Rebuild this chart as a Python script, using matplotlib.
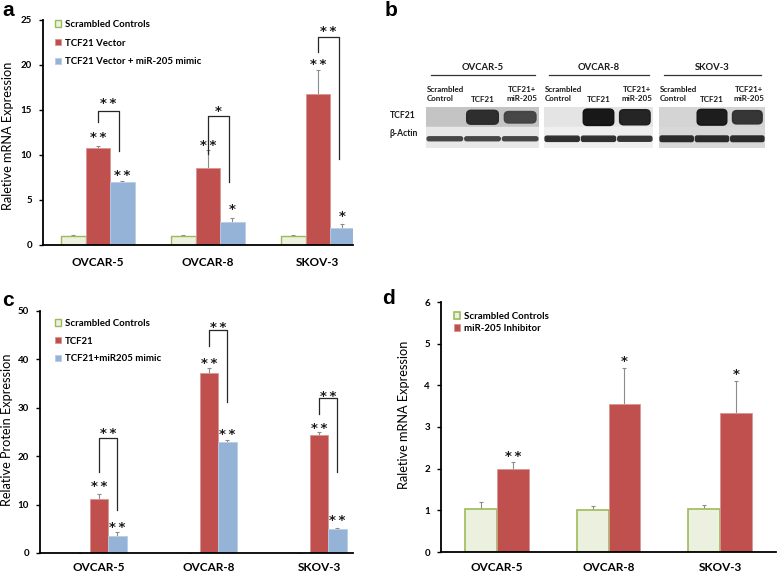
import matplotlib.pyplot as plt
from matplotlib.patches import Rectangle, FancyBboxPatch
import numpy as np

plt.rcParams['font.family'] = ['Lato', 'DejaVu Sans']

W, H = 778, 578

cells = ['OVCAR-5', 'OVCAR-8', 'SKOV-3']

# a: mRNA after TCF21 vector +/- miR-205 mimic
a_labels = ['Scrambled Controls', 'TCF21 Vector', 'TCF21 Vector + miR-205 mimic']
a_ctrl = [1.05, 1.05, 1.05]
a_ctrl_err = [0.05, 0.08, 0.08]
a_tcf = [10.8, 8.5, 16.75]
a_tcf_err = [0.2, 2.05, 2.65]
a_mimic = [6.95, 2.5, 1.93]
a_mimic_err = [0.15, 0.55, 0.45]
a_tcf_stars = ['**', '**', '**']
a_tcf_star_y = [12.5, 11.6, 20.6]
a_mimic_stars = ['**', '*', '*']
a_mimic_star_y = [8.2, 4.4, 3.7]
a_br_left = [13.7, 10.1, 21.4]
a_br_top = [14.9, 14.3, 23.1]
a_br_right = [10.4, 7.0, 9.6]
a_br_stars = ['**', '*', '**']
a_br_star_y = [16.2, 15.3, 24.2]

# c: protein
c_labels = ['Scrambled Controls', 'TCF21', 'TCF21+miR205 mimic']
c_ctrl = [0, 0, 0]
c_ctrl_err = [0, 0, 0]
c_tcf = [11.2, 37.1, 24.4]
c_tcf_err = [1.0, 1.0, 0.5]
c_mimic = [3.6, 22.9, 4.9]
c_mimic_err = [0.7, 0.4, 0.35]
c_tcf_stars = ['**', '**', '**']
c_tcf_star_y = [14.6, 40.0, 26.6]
c_mimic_stars = ['**', '**', '**']
c_mimic_star_y = [6.2, 25.4, 7.55]
c_br_left = [16.8, 42.7, 28.6]
c_br_top = [23.7, 46.0, 31.9]
c_br_right = [8.9, 31.25, 16.8]
c_br_stars = ['**', '**', '**']
c_br_star_y = [25.6, 47.4, 33.2]

# d: mRNA after miR-205 inhibitor
d_labels = ['Scrambled Controls', 'miR-205 Inhibitor']
d_ctrl = [1.04, 1.01, 1.03]
d_ctrl_err = [0.17, 0.1, 0.09]
d_inh = [2.0, 3.55, 3.34]
d_inh_err = [0.15, 0.86, 0.77]
d_inh_stars = ['**', '*', '*']
d_inh_star_y = [2.4, 4.69, 4.37]

# b: western blot
blot_lanes = ['Scrambled\nControl', 'TCF21', 'TCF21+\nmiR-205']
blot_rows = ['TCF21', 'β-Actin']
tcf21_band = [[0.0, 0.8, 0.6], [0.0, 1.0, 0.9], [0.0, 0.95, 0.75]]
actin_band = [[0.6, 0.6, 0.6], [0.8, 0.8, 0.75], [0.85, 0.85, 0.85]]

GREEN_F, GREEN_E = '#ebf1de', '#9bbb59'
RED_F, RED_E = '#c0504d', '#d99694'
BLUE_F, BLUE_E = '#95b3d7', '#b9cde5'
ERR = '#8c8c8c'
TXT = '#1a1a1a'


def box(l, t, r, b):
    return [l / W, 1 - b / H, (r - l) / W, (b - t) / H]


def errs(ax, x, y, e):
    _, caps, _ = ax.errorbar(x, y, yerr=[np.zeros(len(e)), e], fmt='none',
                             ecolor=ERR, elinewidth=0.8, capsize=1.5,
                             capthick=0.8, zorder=1)
    caps[0].set_visible(False)


def put_stars(ax, x, y, labels, fs=9.5):
    for xi, yi, si in zip(x, y, labels):
        ax.annotate('\u2009'.join(si), (xi, yi), xytext=(0, -5.8),
                    textcoords='offset points', ha='center', va='baseline',
                    fontsize=fs, fontweight='bold', color=TXT,
                    family=['DejaVu Sans'])


def style_axes(ax, ylim, yticks, ylabel, label_xy, pad):
    ax.set_ylim(*ylim)
    ax.set_yticks(yticks)
    for s in ['top', 'right']:
        ax.spines[s].set_visible(False)
    ax.spines['left'].set_linewidth(1.3)
    ax.spines['bottom'].set_linewidth(1.3)
    ax.tick_params(axis='y', direction='out', length=3, width=1, pad=5,
                   labelsize=7)
    ax.tick_params(axis='x', length=0, pad=pad, labelsize=8.5)
    ax.set_xticks([0, 1, 2])
    ax.set_xticklabels(cells, fontweight='bold')
    for t in ax.get_yticklabels():
        t.set_fontweight('bold')
    ax.set_ylabel(ylabel, fontsize=9.2)
    ax.yaxis.set_label_coords(*label_xy)


def legend(ax, handles, labels, x, y, spacing):
    ax.legend(handles, labels, loc='upper left', bbox_to_anchor=(x / W, 1 - y / H),
              bbox_transform=fig.transFigure, frameon=False, borderpad=0,
              borderaxespad=0, handlelength=0.65, handleheight=0.65,
              handletextpad=0.4, labelspacing=spacing,
              prop={'size': 6.9, 'weight': 'bold'})


def three_bar_panel(ax, w, ctrl, ctrl_err, tcf, tcf_err, mimic, mimic_err):
    x = np.arange(3)
    b1 = ax.bar(x - w, ctrl, w, color=GREEN_F, edgecolor=GREEN_E, linewidth=1, zorder=2)
    b2 = ax.bar(x, tcf, w, color=RED_F, edgecolor=RED_E, linewidth=0.6, zorder=2)
    b3 = ax.bar(x + w, mimic, w, color=BLUE_F, edgecolor=BLUE_E, linewidth=0.6, zorder=2)
    errs(ax, x - w, ctrl, ctrl_err)
    errs(ax, x, tcf, tcf_err)
    errs(ax, x + w, mimic, mimic_err)
    return x, [b1, b2, b3]


def brackets(ax, xl, xr, left, top, right):
    for i in range(len(xl)):
        ax.plot([xl[i], xl[i], xr[i], xr[i]], [left[i], top[i], top[i], right[i]],
                color='#262626', lw=0.9, zorder=3)


fig = plt.figure(figsize=(W / 100, H / 100), dpi=100)

# ---- panel a
ax = fig.add_axes(box(43, 20, 353, 245))
w = 0.223
x, bars = three_bar_panel(ax, w, a_ctrl, a_ctrl_err, a_tcf, a_tcf_err, a_mimic, a_mimic_err)
ax.set_xlim(-0.5, 2.32)
style_axes(ax, (0, 25), range(0, 26, 5), 'Raletive mRNA Expression', (-0.094, 0.485), 9)
put_stars(ax, x, a_tcf_star_y, a_tcf_stars)
put_stars(ax, x + w, a_mimic_star_y, a_mimic_stars)
brackets(ax, x, x + w - 0.03, a_br_left, a_br_top, a_br_right)
put_stars(ax, x + w / 2 - 0.015, a_br_star_y, a_br_stars)
legend(ax, bars, a_labels, 55, 20, 1.0)

# ---- panel c
ax = fig.add_axes(box(40, 310.7, 353, 553))
w = 0.168
x, bars = three_bar_panel(ax, w, c_ctrl, c_ctrl_err, c_tcf, c_tcf_err, c_mimic, c_mimic_err)
ax.set_xlim(-0.536, 2.31)
style_axes(ax, (0, 50), range(0, 51, 10), 'Relative Protein Expression', (-0.086, 0.51), 6.5)
put_stars(ax, x, c_tcf_star_y, c_tcf_stars)
put_stars(ax, x + w, c_mimic_star_y, c_mimic_stars)
brackets(ax, x, x + w, c_br_left, c_br_top, c_br_right)
put_stars(ax, x + w / 2, c_br_star_y, c_br_stars)
legend(ax, bars, c_labels, 55, 319, 0.9)

# ---- panel d
ax = fig.add_axes(box(441, 302, 776, 552))
w = 0.284
x = np.arange(3)
b1 = ax.bar(x - w / 2, d_ctrl, w, color=GREEN_F, edgecolor=GREEN_E, linewidth=1.2, zorder=2)
b2 = ax.bar(x + w / 2, d_inh, w, color=RED_F, edgecolor=RED_E, linewidth=0.6, zorder=2)
errs(ax, x - w / 2, d_ctrl, d_ctrl_err)
errs(ax, x + w / 2, d_inh, d_inh_err)
ax.set_xlim(-0.5, 2.5)
style_axes(ax, (0, 6), range(0, 7), 'Raletive mRNA Expression', (-0.093, 0.55), 7)
put_stars(ax, x + w / 2, d_inh_star_y, d_inh_stars)
legend(ax, [b1, b2], d_labels, 454, 312, 0.3)

# ---- panel b: blot
fig.text(390 / W, 1 - 115 / H, blot_rows[0], fontsize=6.2, fontweight='bold',
         va='center', color=TXT)
fig.text(390 / W, 1 - 134 / H, blot_rows[1], fontsize=6.2, fontweight='bold',
         va='center', color=TXT)
blot_x = [(426, 539), (544, 653), (659, 765)]
blot_bg = ['#c4c4c4', '#e4e4e4', '#d4d4d4']
blot_bg2 = ['#e8e8e8', '#efefef', '#d8d8d8']
for k, (l, r) in enumerate(blot_x):
    bx = fig.add_axes(box(l, 107, r, 148))
    bx.set_xlim(0, 3)
    bx.set_ylim(2, 0)
    bx.axis('off')
    bx.add_patch(Rectangle((0, 0), 3, 1, color=blot_bg[k]))
    bx.add_patch(Rectangle((0, 1), 3, 1, color=blot_bg2[k]))
    for i in range(3):
        v = tcf21_band[k][i]
        if v > 0:
            h = 0.2 + 0.6 * v
            g = 0.55 - 0.5 * v
            bx.add_patch(FancyBboxPatch((i + 0.08, 0.5 - h / 2), 0.84, h,
                                        boxstyle='round,pad=0,rounding_size=0.12',
                                        mutation_aspect=1.6, color=(g, g, g), alpha=0.95))
        v = actin_band[k][i]
        h = 0.32 * v
        g = 0.55 - 0.45 * v
        bx.add_patch(FancyBboxPatch((i + 0.03, 1.55 - h / 2), 0.94, h,
                                    boxstyle='round,pad=0,rounding_size=0.05',
                                    mutation_aspect=1.6, color=(g, g, g)))
    # cell label and line
    cx = (l + r) / 2
    fig.text(cx / W, 1 - 67 / H, cells[k], fontsize=6.8, fontweight='bold',
             ha='center', va='center', color=TXT)
    fig.add_artist(plt.Line2D([(l + 5) / W, (r - 4) / W], [1 - 75 / H, 1 - 75 / H],
                              color='#333333', lw=0.9))
    lane_w = (r - l) / 3
    fig.text((l + 1) / W, 1 - 94 / H, blot_lanes[0], fontsize=5.8, fontweight='bold',
             ha='left', va='center', color=TXT, linespacing=1.4)
    fig.text((l + 1.5 * lane_w) / W, 1 - 99 / H, blot_lanes[1], fontsize=5.8,
             fontweight='bold', ha='center', va='center', color=TXT)
    fig.text((l + 2.55 * lane_w) / W, 1 - 94 / H, blot_lanes[2], fontsize=5.8,
             fontweight='bold', ha='center', va='center', color=TXT, linespacing=1.4)

# panel letters
for s, xp, yp in [('a', 2, 10), ('b', 385, 10), ('c', 2, 300), ('d', 382, 298)]:
    fig.text(xp / W, 1 - yp / H, s, fontsize=15, fontweight='bold',
             family=['Liberation Sans', 'DejaVu Sans'], va='center', ha='left')

plt.savefig('out.png', dpi=100)
